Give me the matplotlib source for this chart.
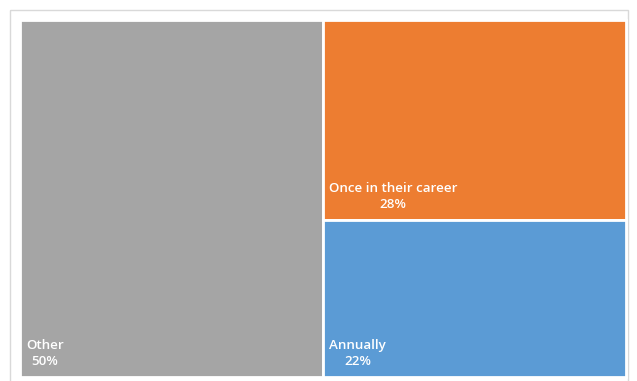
import matplotlib.pyplot as plt
from matplotlib.patches import Rectangle

labels = ["Other", "Once in their career", "Annually"]
shares = [50, 28, 22]
colors = ["#A5A5A5", "#ED7D31", "#5B9BD5"]

W, H = 637, 381
fig = plt.figure(figsize=(W / 100, H / 100), dpi=100)
ax = fig.add_axes([0, 0, 1, 1])
ax.set_xlim(0, W)
ax.set_ylim(H, 0)
ax.axis("off")

# outer chart frame
ax.add_patch(Rectangle((10, 10), 618, 380, fill=False, edgecolor="#D9D9D9", lw=1))

# plot area for the treemap
x0, y0, x1, y1 = 20, 20, 626, 377
total = sum(shares)

# first item takes a full-height column, the rest stack on the right
w_left = (x1 - x0) * shares[0] / total
rects = [(x0, y0, w_left, y1 - y0)]
rest = sum(shares[1:])
y = y0
for s in shares[1:]:
    h = (y1 - y0) * s / rest
    rects.append((x0 + w_left, y, x1 - x0 - w_left, h))
    y += h

for (rx, ry, rw, rh), lab, s, c in zip(rects, labels, shares, colors):
    ax.add_patch(Rectangle((rx, ry), rw, rh, facecolor=c, edgecolor="white", lw=2))
    ax.text(rx + 6, ry + rh - 9, f"{lab}\n{s}%", color="white", fontsize=9.6,
            family="Open Sans", weight="semibold", ha="left", va="bottom",
            multialignment="center", linespacing=1.3)

fig.savefig("out.png", dpi=100)
